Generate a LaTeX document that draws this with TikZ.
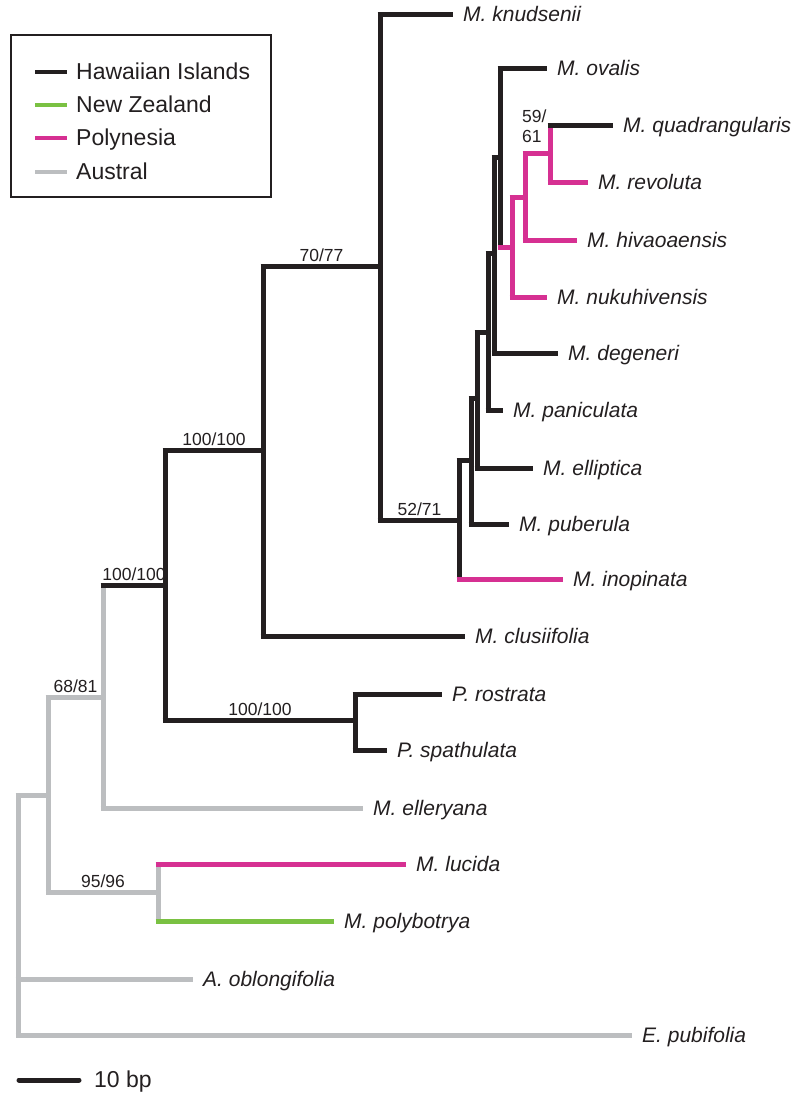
\documentclass[tikz,border=0pt]{standalone}
\usepackage{fontspec}
\setmainfont{Liberation Sans}
\definecolor{hawaii}{RGB}{35,31,32}
\definecolor{nz}{RGB}{122,193,66}
\definecolor{poly}{RGB}{214,48,146}
\definecolor{austral}{RGB}{188,190,192}
\begin{document}
\begin{tikzpicture}[x=1pt,y=-1pt,
  br/.style={line width=5pt},
  taxon/.style={anchor=base west, inner sep=0pt, xshift=10pt, yshift=-7pt,
    font=\fontsize{21}{25}\selectfont\itshape, text=hawaii},
  boot/.style={anchor=base, inner sep=0pt, yshift=5pt,
    font=\fontsize{17.5}{20}\selectfont, text=hawaii},
  legtext/.style={anchor=base west, inner sep=0pt, yshift=-7pt,
    font=\fontsize{23}{27}\selectfont, text=hawaii},
  legline/.style={line width=4.8pt}]
\useasboundingbox (0,0) rectangle (806,1093);
% internal nodes
\coordinate (root) at (18,914);
\coordinate (N) at (48,795);
\coordinate (L) at (158,892);
\coordinate (O) at (103,697);
\coordinate (P) at (165,585);
\coordinate (M) at (355,720);
\coordinate (Q) at (263,450);
\coordinate (R) at (380,266);
\coordinate (S) at (459,520);
\coordinate (T) at (471,460);
\coordinate (U) at (477,398);
\coordinate (W) at (488,332);
\coordinate (Y) at (494,253);
\coordinate (X) at (500,157);
\coordinate (K) at (512,247);
\coordinate (J) at (525,197);
\coordinate (I) at (550,153);
% tips
\coordinate (obl) at (193,979);
\coordinate (pub) at (632,1035);
\coordinate (luc) at (406,864);
\coordinate (pol) at (334,921);
\coordinate (ell) at (363,808);
\coordinate (ros) at (442,694);
\coordinate (spa) at (387,750);
\coordinate (clu) at (465,636);
\coordinate (knu) at (453,14);
\coordinate (ino) at (563,579);
\coordinate (pube) at (509,524);
\coordinate (elli) at (533,468);
\coordinate (pan) at (503,410);
\coordinate (deg) at (558,353);
\coordinate (ova) at (547,68);
\coordinate (nuk) at (547,297);
\coordinate (hiv) at (577,240);
\coordinate (qua) at (613,125);
\coordinate (rev) at (588,182);
% verticals
\foreach \n/\a/\b/\col in {root/N/pub/austral, N/O/L/austral, L/luc/pol/austral,
  O/P/ell/austral, P/Q/M/hawaii, M/ros/spa/hawaii, Q/R/clu/hawaii,
  R/knu/S/hawaii, S/T/ino/hawaii, T/U/pube/hawaii, U/W/elli/hawaii,
  W/Y/pan/hawaii, Y/X/deg/hawaii, X/ova/K/hawaii, K/J/nuk/poly,
  J/I/hiv/poly, I/qua/rev/poly}
  \draw[br,\col] (\n |- \a) -- (\n |- \b);
% horizontals
\foreach \p/\c/\col in {root/N/austral, root/obl/austral, root/pub/austral,
  N/O/austral, N/L/austral, L/luc/poly, L/pol/nz, O/P/hawaii, O/ell/austral,
  P/Q/hawaii, P/M/hawaii, M/ros/hawaii, M/spa/hawaii, Q/R/hawaii, Q/clu/hawaii,
  R/knu/hawaii, R/S/hawaii, S/T/hawaii, S/ino/poly, T/U/hawaii, T/pube/hawaii,
  U/W/hawaii, U/elli/hawaii, W/Y/hawaii, W/pan/hawaii, Y/X/hawaii, Y/deg/hawaii,
  X/ova/hawaii, X/K/poly, K/J/poly, K/nuk/poly, J/I/poly, J/hiv/poly,
  I/qua/hawaii, I/rev/poly}
  \draw[br,\col] ([xshift=-2.5pt]\p |- \c) -- (\c);
% taxon labels
\node[taxon] (l-knu) at (knu) {M. knudsenii};
\node[taxon] (l-ova) at (ova) {M. ovalis};
\node[taxon] (l-qua) at (qua) {M. quadrangularis};
\node[taxon] (l-rev) at (rev) {M. revoluta};
\node[taxon] (l-hiv) at (hiv) {M. hivaoaensis};
\node[taxon] (l-nuk) at (nuk) {M. nukuhivensis};
\node[taxon] (l-deg) at (deg) {M. degeneri};
\node[taxon] (l-pan) at (pan) {M. paniculata};
\node[taxon] (l-elli) at (elli) {M. elliptica};
\node[taxon] (l-pube) at (pube) {M. puberula};
\node[taxon] (l-ino) at (ino) {M. inopinata};
\node[taxon] (l-clu) at (clu) {M. clusiifolia};
\node[taxon] (l-ros) at (ros) {P. rostrata};
\node[taxon] (l-spa) at (spa) {P. spathulata};
\node[taxon] (l-ell) at (ell) {M. elleryana};
\node[taxon] (l-luc) at (luc) {M. lucida};
\node[taxon] (l-pol) at (pol) {M. polybotrya};
\node[taxon] (l-obl) at (obl) {A. oblongifolia};
\node[taxon] (l-pub) at (pub) {E. pubifolia};
% support values
\path (R |- S) -- (S) node[midway, boot] (b-S) {52/71};
\path (Q |- R) -- (R) node[midway, boot] (b-R) {70/77};
\path (P |- Q) -- (Q) node[midway, boot] (b-Q) {100/100};
\path (P |- M) -- (M) node[midway, boot] (b-M) {100/100};
\path (O |- P) -- (P) node[midway, boot] (b-P) {100/100};
\path (N |- O) -- (O) node[midway, boot] (b-O) {68/81};
\path (N |- L) -- (L) node[midway, boot] (b-L) {95/96};
\node[boot, anchor=base west, yshift=0pt] (b-I1) at (522,127) {59/};
\node[boot, anchor=base west, yshift=0pt] (b-I2) at (522,147) {61};
% legend
\draw[line width=1.1pt, hawaii] (11,35) rectangle (271,197);
\coordinate (lg1a) at (35,72);  \coordinate (lg1b) at (67,72);
\coordinate (lg2a) at (35,105); \coordinate (lg2b) at (67,105);
\coordinate (lg3a) at (35,138); \coordinate (lg3b) at (67,138);
\coordinate (lg4a) at (35,172); \coordinate (lg4b) at (67,172);
\draw[legline, hawaii] (lg1a) -- (lg1b);
\draw[legline, nz] (lg2a) -- (lg2b);
\draw[legline, poly] (lg3a) -- (lg3b);
\draw[legline, austral] (lg4a) -- (lg4b);
\node[legtext] (lt1) at ([xshift=9pt]lg1b) {Hawaiian Islands};
\node[legtext] (lt2) at ([xshift=9pt]lg2b) {New Zealand};
\node[legtext] (lt3) at ([xshift=9pt]lg3b) {Polynesia};
\node[legtext] (lt4) at ([xshift=9pt]lg4b) {Austral};
% scale bar
\coordinate (sba) at (19,1080);
\coordinate (sbb) at (79,1080);
\draw[line width=5pt, line cap=round, hawaii] (sba) -- (sbb);
\node[legtext, yshift=-0.5pt] (sbt) at ([xshift=15pt]sbb) {10 bp};
\end{tikzpicture}
\end{document}
